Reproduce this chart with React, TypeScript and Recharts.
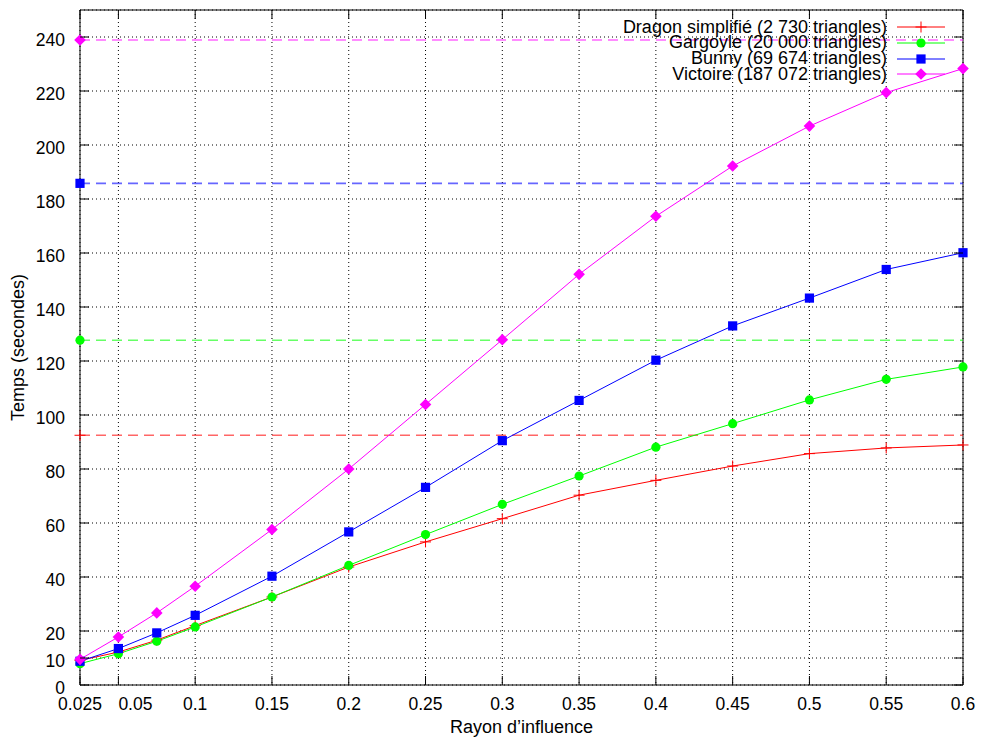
import { LineChart, Line, XAxis, YAxis, CartesianGrid, ReferenceArea, Legend } from "recharts"

// rayon d'influence (abscisses)
const RADII = [0.025, 0.05, 0.075, 0.1, 0.15, 0.2, 0.25, 0.3, 0.35, 0.4, 0.45, 0.5, 0.55, 0.6]

// temps en secondes
const DRAGON = [9.1, 12.2, 16.6, 22.0, 32.6, 43.7, 53.0, 61.6, 70.3, 75.8, 81.1, 85.7, 87.8, 88.9]
const GARGOYLE = [7.9, 11.6, 16.2, 21.5, 32.6, 44.3, 55.7, 66.9, 77.4, 88.1, 96.8, 105.6, 113.2, 117.8]
const BUNNY = [8.8, 13.5, 19.3, 25.8, 40.3, 56.7, 73.2, 90.5, 105.4, 120.3, 133.0, 143.3, 153.9, 160.1]
const VICTOIRE = [9.5, 17.8, 26.7, 36.6, 57.6, 80.0, 103.9, 127.9, 152.1, 173.6, 192.2, 207.0, 219.4, 228.3]

// temps de référence (lignes en tirets), même ordre que les séries
const REF_TIMES = [92.5, 127.7, 185.8, 238.9]

const SERIES_NAMES = [
    "Dragon simplifié (2 730 triangles)",
    "Gargoyle (20 000 triangles)",
    "Bunny (69 674 triangles)",
    "Victoire (187 072 triangles)",
]

const X_TICKS = [0.025, 0.05, 0.1, 0.15, 0.2, 0.25, 0.3, 0.35, 0.4, 0.45, 0.5, 0.55, 0.6]
const Y_TICKS = [0, 10, 20, 40, 60, 80, 100, 120, 140, 160, 180, 200, 220, 240]
const Y_TOP = 250

const FONT = '"Liberation Sans", Arial, Helvetica, sans-serif'
const W = 981
const H = 738
const MARGIN = { top: 10, right: 18, bottom: 0, left: 0 }
const Y_AXIS_W = 80
const X_AXIS_H = 53
const PLOT_LEFT = MARGIN.left + Y_AXIS_W
const PLOT_RIGHT = W - MARGIN.right
const PLOT_TOP = MARGIN.top
const PLOT_BOTTOM = H - MARGIN.bottom - X_AXIS_H
const TICK_LEN = 9

type Kind = "plus" | "circle" | "square" | "diamond"

const SERIES: { key: string; color: string; kind: Kind; values: number[] }[] = [
    { key: "dragon", color: "#ff0000", kind: "plus", values: DRAGON },
    { key: "gargoyle", color: "#00ff00", kind: "circle", values: GARGOYLE },
    { key: "bunny", color: "#0000ff", kind: "square", values: BUNNY },
    { key: "victoire", color: "#ff00ff", kind: "diamond", values: VICTOIRE },
]

const rows = RADII.map((r, i) => {
    const row: any = { r }
    SERIES.forEach((s) => (row[s.key] = s.values[i]))
    return row
})

const refRows = [RADII[0], RADII[RADII.length - 1]].map((r) => {
    const row: any = { r }
    SERIES.forEach((s, i) => (row[s.key + "Ref"] = REF_TIMES[i]))
    return row
})

const marker = (kind: Kind, cx: number, cy: number, color: string, key: string) => {
    if (cx == null || cy == null) return <g key={key} />
    switch (kind) {
        case "plus":
            return (
                <g key={key} stroke={color} strokeWidth={1}>
                    <line x1={cx - 5.5} x2={cx + 5.5} y1={cy} y2={cy} />
                    <line x1={cx} x2={cx} y1={cy - 5.5} y2={cy + 5.5} />
                </g>
            )
        case "circle":
            return <circle key={key} cx={cx} cy={cy} r={4.6} fill={color} />
        case "square":
            return <rect key={key} x={cx - 4.6} y={cy - 4.6} width={9.2} height={9.2} fill={color} />
        default:
            return (
                <polygon
                    key={key}
                    points={`${cx},${cy - 5.8} ${cx + 5.8},${cy} ${cx},${cy + 5.8} ${cx - 5.8},${cy}`}
                    fill={color}
                />
            )
    }
}

const XTick = (props: any) => {
    const { x, y, payload } = props
    const v = payload.value
    return (
        <g>
            <line x1={x} x2={x} y1={PLOT_BOTTOM} y2={PLOT_BOTTOM - TICK_LEN} stroke="#000" />
            <line x1={x} x2={x} y1={PLOT_TOP} y2={PLOT_TOP + TICK_LEN} stroke="#000" />
            <text
                x={x}
                y={y}
                dy="0.71em"
                textAnchor={v === 0.05 ? "start" : "middle"}
                fill="#000"
                fontSize={17.5}
                fontFamily={FONT}
            >
                {String(v)}
            </text>
        </g>
    )
}

const YTick = (props: any) => {
    const { x, y, payload } = props
    return (
        <g>
            <line x1={PLOT_LEFT} x2={PLOT_LEFT + TICK_LEN} y1={y} y2={y} stroke="#000" />
            <line x1={PLOT_RIGHT - TICK_LEN} x2={PLOT_RIGHT} y1={y} y2={y} stroke="#000" />
            <text x={x} y={y} dy="0.5em" textAnchor="end" fill="#000" fontSize={17.5} fontFamily={FONT}>
                {payload.value}
            </text>
        </g>
    )
}

const YLabel = (props: any) => {
    const vb = props.viewBox ?? { x: 0, y: PLOT_TOP, width: Y_AXIS_W, height: PLOT_BOTTOM - PLOT_TOP }
    const cx = vb.x + 18
    const cy = vb.y + vb.height / 2
    return (
        <text
            x={cx}
            y={cy}
            transform={`rotate(-90, ${cx}, ${cy})`}
            textAnchor="middle"
            dy="0.35em"
            fill="#000"
            fontSize={18}
            fontFamily={FONT}
        >
            Temps (secondes)
        </text>
    )
}

const LegendBox = () => (
    <div style={{ fontFamily: FONT, fontSize: 18, color: "#000" }}>
        {SERIES.map((s, i) => (
            <div
                key={s.key}
                style={{ display: "flex", justifyContent: "flex-end", alignItems: "center", height: 15.7 }}
            >
                <span style={{ whiteSpace: "nowrap", lineHeight: "15.7px", marginRight: 10 }}>{SERIES_NAMES[i]}</span>
                <svg width={48} height={16} style={{ overflow: "visible" }}>
                    <line x1={0} x2={48} y1={8} y2={8} stroke={s.color} strokeWidth={1} />
                    {marker(s.kind, 24, 8, s.color, "m")}
                </svg>
            </div>
        ))}
    </div>
)

export default function App() {
    return (
        <div style={{ position: "absolute", left: 0, top: 0, width: W, height: H, background: "#fff" }}>
            <LineChart width={W} height={H} data={rows} margin={MARGIN}>
                <CartesianGrid stroke="#000" strokeDasharray="1 3" />
                <XAxis
                    dataKey="r"
                    type="number"
                    domain={[RADII[0], RADII[RADII.length - 1]]}
                    ticks={X_TICKS}
                    interval={0}
                    height={X_AXIS_H}
                    tickSize={0}
                    tickMargin={13}
                    tick={<XTick />}
                    axisLine={false}
                    tickLine={false}
                    label={{
                        value: "Rayon d’influence",
                        position: "insideBottom",
                        offset: 5,
                        fill: "#000",
                        fontSize: 18,
                        fontFamily: FONT,
                    }}
                />
                <YAxis
                    type="number"
                    domain={[0, Y_TOP]}
                    ticks={Y_TICKS}
                    interval={0}
                    width={Y_AXIS_W}
                    tickSize={0}
                    tickMargin={15}
                    tick={<YTick />}
                    axisLine={false}
                    tickLine={false}
                    label={(p: any) => <YLabel {...p} />}
                />
                <ReferenceArea
                    x1={RADII[0]}
                    x2={RADII[RADII.length - 1]}
                    y1={0}
                    y2={Y_TOP}
                    fill="none"
                    stroke="#000"
                    strokeWidth={1}
                    ifOverflow="visible"
                />
                {SERIES.map((s) => (
                    <Line
                        key={s.key + "Ref"}
                        data={refRows}
                        dataKey={s.key + "Ref"}
                        stroke={s.color}
                        strokeWidth={1.6}
                        strokeOpacity={0.6}
                        strokeDasharray="10 6"
                        isAnimationActive={false}
                        legendType="none"
                        activeDot={false}
                        dot={(p: any) =>
                            p.index === 0 ? marker(s.kind, p.cx, p.cy, s.color, `${s.key}-ref-${p.index}`) : <g key={`${s.key}-ref-${p.index}`} />
                        }
                    />
                ))}
                {SERIES.map((s) => (
                    <Line
                        key={s.key}
                        dataKey={s.key}
                        name={s.key}
                        stroke={s.color}
                        strokeWidth={1}
                        isAnimationActive={false}
                        activeDot={false}
                        dot={(p: any) => marker(s.kind, p.cx, p.cy, s.color, `${s.key}-${p.index}`)}
                    />
                ))}
                <Legend
                    layout="vertical"
                    align="center"
                    verticalAlign="middle"
                    wrapperStyle={{ top: 19.5, left: 545, width: 400 }}
                    content={() => <LegendBox />}
                />
            </LineChart>
        </div>
    )
}
